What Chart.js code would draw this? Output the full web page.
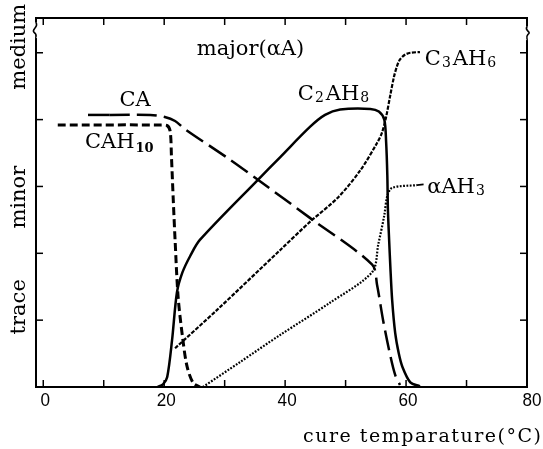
<!DOCTYPE html>
<html><head><meta charset="utf-8">
<script src="https://cdn.jsdelivr.net/npm/chart.js@4"></script>
<style>html,body{margin:0;padding:0;background:#fff;overflow:hidden}</style>
</head><body>
<canvas id="c" width="543" height="449"></canvas>
<script>
// ---- data ----
const xTickLabels = [0, 20, 40, 60, 80];
const yCatLabels = ['trace', 'minor', 'medium'];
const yCatPos = [1.2, 2.84, 5.09];
const xTitle = 'cure temparature(°C)';

const caX = [7.4, 11.0, 17.7, 20.1, 21.8, 23.4, 30.9, 35.5, 44.1, 54.4, 55.2, 56.2, 57.2, 58.2, 59.0];
const caY = [4.07, 4.07, 4.07, 4.04, 3.98, 3.86, 3.40, 3.10, 2.53, 1.83, 1.53, 1.00, 0.55, 0.18, 0.03];

const cah10X = [2.4, 19.3, 20.5, 21.0, 21.2, 21.5, 21.8, 22.3, 23.1, 23.8, 24.8, 25.9];
const cah10Y = [3.92, 3.92, 3.91, 3.82, 3.45, 2.80, 2.20, 1.35, 0.70, 0.30, 0.06, 0.00];

const c2ah8X = [18.9, 19.8, 20.5, 21.3, 22.1, 23.0, 24.3, 25.9, 35.5, 39.2, 44.1, 46.6, 49.1, 54.1, 55.5, 56.4, 56.7, 56.9, 57.0, 57.2, 57.4, 57.7, 58.2, 58.8, 59.4, 60.7, 62.3];
const c2ah8Y = [0.00, 0.04, 0.15, 0.70, 1.41, 1.71, 1.96, 2.20, 3.10, 3.44, 3.89, 4.07, 4.15, 4.16, 4.12, 4.00, 3.67, 3.17, 2.65, 2.20, 1.80, 1.30, 0.81, 0.50, 0.30, 0.07, 0.01];

const c3ah6X = [21.8, 28.7, 39.2, 44.1, 48.8, 52.5, 55.2, 56.0, 56.7, 57.4, 58.0, 58.5, 59.0, 59.8, 60.7, 62.3];
const c3ah6Y = [0.58, 1.15, 2.05, 2.47, 2.84, 3.25, 3.65, 3.80, 4.04, 4.37, 4.64, 4.80, 4.90, 4.97, 5.00, 5.01];

const aah3X = [26.4, 32.5, 39.2, 47.4, 54.4, 55.4, 56.4, 56.9, 57.7, 61.8];
const aah3Y = [0.00, 0.37, 0.78, 1.26, 1.72, 2.13, 2.57, 2.86, 2.98, 3.02];

// curve labels: [parts, x, y]  (parts: [text, kind] kind 0=normal,1=sub,2=bold sub)
const curveLabels = [
  [[['major(αA)', 0]], 25.4, 4.97],
  [[['CA', 0]], 12.6, 4.21],
  [[['CAH', 0], ['10', 2]], 6.9, 3.58],
  [[['C', 0], ['2', 1], ['AH', 0], ['8', 1]], 42.1, 4.30],
  [[['C', 0], ['3', 1], ['AH', 0], ['6', 1]], 63.1, 4.82],
  [[['αAH', 0], ['3', 1]], 63.5, 2.90]
];

const pts = (xs, ys) => xs.map((v, i) => ({x: v, y: ys[i]}));

const SERIF = '"DejaVu Serif", serif';

const decor = {
  id: 'decor',
  afterDatasetsDraw(chart) {
    const {ctx, chartArea: a, scales: {x, y}} = chart;
    const line = (x1, y1, x2, y2) => { ctx.beginPath(); ctx.moveTo(x1, y1); ctx.lineTo(x2, y2); ctx.stroke(); };
    ctx.save();
    ctx.strokeStyle = '#000';
    ctx.fillStyle = '#000';
    // frame
    ctx.lineWidth = 2;
    ctx.strokeRect(a.left, a.top, a.right - a.left, a.bottom - a.top);
    // break marks near the top of both vertical borders
    const yb1 = y.getPixelForValue(5.45), yb2 = y.getPixelForValue(5.22);
    ctx.strokeStyle = '#fff'; ctx.lineWidth = 4;
    line(a.left, yb1, a.left, yb2);
    line(a.right, yb1 + 4, a.right, yb2 + 2);
    ctx.strokeStyle = '#000'; ctx.lineWidth = 1.6;
    ctx.beginPath();
    ctx.moveTo(a.left, yb1);
    ctx.bezierCurveTo(a.left + 3, yb1 + 5, a.left - 5, yb1 + 6, a.left - 2, (yb1 + yb2) / 2 + 2);
    ctx.bezierCurveTo(a.left + 2, yb2 - 3, a.left - 1, yb2 - 1, a.left, yb2);
    ctx.stroke();
    ctx.beginPath();
    ctx.moveTo(a.right, yb1 + 4);
    ctx.bezierCurveTo(a.right - 3, yb1 + 8, a.right + 5, yb1 + 9, a.right + 1, (yb1 + yb2) / 2 + 4);
    ctx.bezierCurveTo(a.right - 2, yb2, a.right + 1, yb2 + 1, a.right, yb2 + 2);
    ctx.stroke();
    // inward ticks
    ctx.lineWidth = 1.5;
    for (let v = 0; v <= 80; v += 10) {
      const px = x.getPixelForValue(v);
      line(px, a.bottom, px, a.bottom - 7);
      line(px, a.top, px, a.top + 7);
    }
    for (let v = 1; v <= 5; v++) {
      const py = y.getPixelForValue(v);
      line(a.left, py, a.left + 7, py);
      line(a.right, py, a.right - 7, py);
    }
    // x tick labels
    ctx.font = '19px "Liberation Sans", Arial, sans-serif';
    ctx.textAlign = 'center';
    ctx.textBaseline = 'alphabetic';
    xTickLabels.forEach(v => {
      ctx.save();
      ctx.translate(x.getPixelForValue(v) + 2 + (v === 80 ? 3 : 0), a.bottom + 19);
      ctx.scale(0.9, 1);
      ctx.fillText(String(v), 0, 0);
      ctx.restore();
    });
    // x title
    ctx.font = '19px ' + SERIF;
    ctx.textAlign = 'left';
    const target = 238;
    const w0 = ctx.measureText(xTitle).width;
    if ('letterSpacing' in ctx) ctx.letterSpacing = ((target - w0) / (xTitle.length - 1)).toFixed(2) + 'px';
    ctx.fillText(xTitle, a.left + 267, a.bottom + 55);
    if ('letterSpacing' in ctx) ctx.letterSpacing = '0px';
    // y category labels (rotated)
    ctx.font = '21px ' + SERIF;
    ctx.textAlign = 'center';
    yCatLabels.forEach((t, i) => {
      ctx.save();
      ctx.translate(a.left - 11, y.getPixelForValue(yCatPos[i]));
      ctx.rotate(-Math.PI / 2);
      ctx.fillText(t, 0, 0);
      ctx.restore();
    });
    // curve labels
    ctx.textAlign = 'left';
    curveLabels.forEach(([parts, vx, vy]) => {
      let cx = x.getPixelForValue(vx);
      const cy = y.getPixelForValue(vy);
      parts.forEach(([t, k]) => {
        if (k === 0) { ctx.font = '21px ' + SERIF; ctx.fillText(t, cx, cy); cx += ctx.measureText(t).width + 1; }
        else if (k === 1) { ctx.font = '14px ' + SERIF; ctx.fillText(t, cx, cy + 2); cx += ctx.measureText(t).width + 2; }
        else { ctx.font = 'bold 13px ' + SERIF; ctx.fillText(t, cx, cy + 4); cx += ctx.measureText(t).width; }
      });
    });
    // connector stub for αAH3 label
    ctx.lineWidth = 1.8;
    line(x.getPixelForValue(aah3X[aah3X.length - 1]), y.getPixelForValue(aah3Y[aah3Y.length - 1]), x.getPixelForValue(62.9), y.getPixelForValue(3.03));
    ctx.restore();
  }
};

const common = {pointRadius: 0, borderColor: '#000', fill: false, tension: 0.3, borderCapStyle: 'butt', borderJoinStyle: 'round'};

new Chart(document.getElementById('c'), {
  type: 'line',
  data: {
    datasets: [
      Object.assign({}, common, {label: 'CA', data: pts(caX, caY), borderWidth: 2.5,
        segment: {borderDash: c => (c.p1.parsed.x <= 11.0 ? [] : [20, 7])}}),
      Object.assign({}, common, {label: 'CAH10', data: pts(cah10X, cah10Y), borderWidth: 3, borderDash: [8, 4]}),
      Object.assign({}, common, {label: 'C2AH8', data: pts(c2ah8X, c2ah8Y), borderWidth: 2.5}),
      Object.assign({}, common, {label: 'C3AH6', data: pts(c3ah6X, c3ah6Y), borderWidth: 2.2, borderDash: [4, 1.5]}),
      Object.assign({}, common, {label: 'αAH3', data: pts(aah3X, aah3Y), borderWidth: 2.2, borderDash: [1.8, 1.5]})
    ]
  },
  options: {
    responsive: false,
    animation: false,
    events: [],
    layout: {padding: {left: 36, top: 18, right: 16, bottom: 62}},
    plugins: {legend: {display: false}, tooltip: {enabled: false}},
    scales: {
      x: {type: 'linear', min: -1.2, max: 80, display: false},
      y: {type: 'linear', min: 0, max: 5.52, display: false}
    }
  },
  plugins: [decor]
});
</script>
</body></html>
